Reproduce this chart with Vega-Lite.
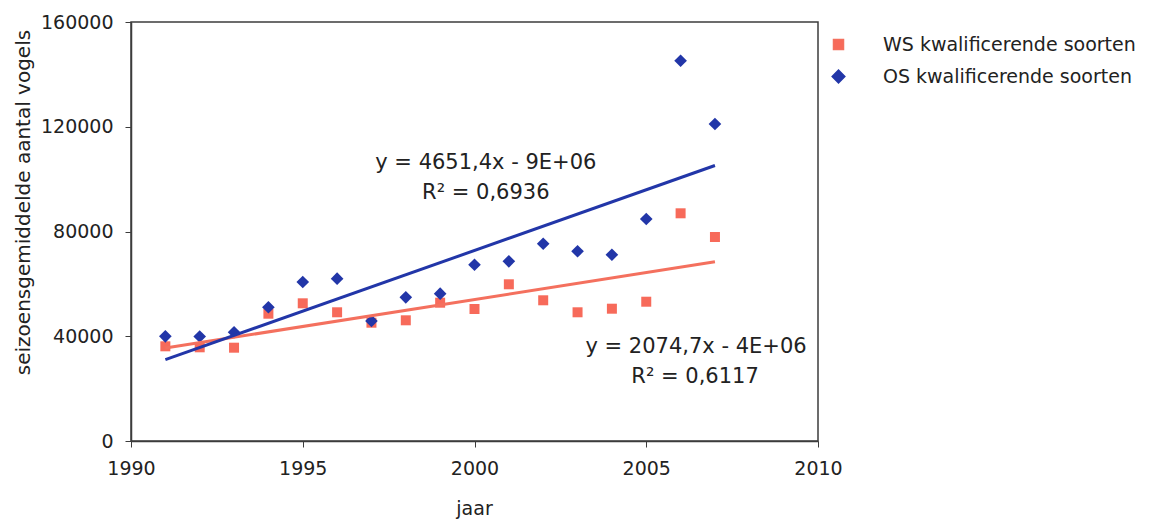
{
  "$schema": "https://vega.github.io/schema/vega-lite/v6.json",
  "autosize": "none",
  "padding": {"left": 131, "top": 22, "right": 336, "bottom": 82},
  "width": 687,
  "height": 419,
  "background": "white",
  "config": {
    "font": "DejaVu Sans",
    "view": {"stroke": "#3c3c3c", "strokeWidth": 1.5},
    "axis": {
      "grid": false,
      "labelFlush": false,
      "domainColor": "#3c3c3c",
      "domainWidth": 1.5,
      "tickColor": "#3c3c3c",
      "tickSize": 6,
      "labelFontSize": 19,
      "labelColor": "#222222",
      "titleFontSize": 19,
      "titleFontWeight": "normal",
      "titleColor": "#222222"
    },
    "legend": {
      "orient": "none",
      "legendX": 698,
      "legendY": 13,
      "labelFontSize": 19,
      "labelColor": "#222222",
      "labelOffset": 35,
      "labelLimit": 0,
      "rowPadding": 12,
      "symbolSize": 90,
      "padding": 0
    }
  },
  "datasets": {
    "obs": [
      {"year": 1991, "series": "WS kwalificerende soorten", "value": 36160},
      {"year": 1992, "series": "WS kwalificerende soorten", "value": 35780},
      {"year": 1993, "series": "WS kwalificerende soorten", "value": 35630},
      {"year": 1994, "series": "WS kwalificerende soorten", "value": 48610},
      {"year": 1995, "series": "WS kwalificerende soorten", "value": 52580},
      {"year": 1996, "series": "WS kwalificerende soorten", "value": 49150},
      {"year": 1997, "series": "WS kwalificerende soorten", "value": 45170},
      {"year": 1998, "series": "WS kwalificerende soorten", "value": 46090},
      {"year": 1999, "series": "WS kwalificerende soorten", "value": 52810},
      {"year": 2000, "series": "WS kwalificerende soorten", "value": 50410},
      {"year": 2001, "series": "WS kwalificerende soorten", "value": 59840},
      {"year": 2002, "series": "WS kwalificerende soorten", "value": 53730},
      {"year": 2003, "series": "WS kwalificerende soorten", "value": 49150},
      {"year": 2004, "series": "WS kwalificerende soorten", "value": 50520},
      {"year": 2005, "series": "WS kwalificerende soorten", "value": 53190},
      {"year": 2006, "series": "WS kwalificerende soorten", "value": 86950},
      {"year": 2007, "series": "WS kwalificerende soorten", "value": 77900},
      {"year": 1991, "series": "OS kwalificerende soorten", "value": 39980},
      {"year": 1992, "series": "OS kwalificerende soorten", "value": 39900},
      {"year": 1993, "series": "OS kwalificerende soorten", "value": 41510},
      {"year": 1994, "series": "OS kwalificerende soorten", "value": 51060},
      {"year": 1995, "series": "OS kwalificerende soorten", "value": 60720},
      {"year": 1996, "series": "OS kwalificerende soorten", "value": 61980},
      {"year": 1997, "series": "OS kwalificerende soorten", "value": 45820},
      {"year": 1998, "series": "OS kwalificerende soorten", "value": 54870},
      {"year": 1999, "series": "OS kwalificerende soorten", "value": 56250},
      {"year": 2000, "series": "OS kwalificerende soorten", "value": 67320},
      {"year": 2001, "series": "OS kwalificerende soorten", "value": 68620},
      {"year": 2002, "series": "OS kwalificerende soorten", "value": 75340},
      {"year": 2003, "series": "OS kwalificerende soorten", "value": 72440},
      {"year": 2004, "series": "OS kwalificerende soorten", "value": 71140},
      {"year": 2005, "series": "OS kwalificerende soorten", "value": 84770},
      {"year": 2006, "series": "OS kwalificerende soorten", "value": 145220},
      {"year": 2007, "series": "OS kwalificerende soorten", "value": 121050}
    ],
    "notes": [
      {"year": 2000.33, "value": 106270, "label": "y = 4651,4x - 9E+06"},
      {"year": 2000.33, "value": 94590, "label": "R² = 0,6936"},
      {"year": 2006.45, "value": 36010, "label": "y = 2074,7x - 4E+06"},
      {"year": 2006.42, "value": 24550, "label": "R² = 0,6117"}
    ]
  },
  "layer": [
    {
      "data": {"name": "obs"},
      "mark": {"type": "point", "filled": true, "opacity": 1},
      "encoding": {
        "x": {
          "field": "year",
          "type": "quantitative",
          "scale": {"domain": [1990, 2010], "nice": false, "zero": false},
          "axis": {
            "values": [1990, 1995, 2000, 2005, 2010],
            "format": "d",
            "title": "jaar",
            "labelPadding": 12,
            "titleX": 343,
            "titleY": 67,
            "titleBaseline": "middle"
          }
        },
        "y": {
          "field": "value",
          "type": "quantitative",
          "scale": {"domain": [0, 160000], "nice": false},
          "axis": {
            "values": [0, 40000, 80000, 120000, 160000],
            "format": "d",
            "title": "seizoensgemiddelde aantal vogels",
            "titleFontSize": 20,
            "labelPadding": 12,
            "titleX": -108,
            "titleY": 180,
            "titleAlign": "center",
            "titleBaseline": "middle"
          }
        },
        "color": {
          "field": "series",
          "type": "nominal",
          "scale": {
            "domain": ["WS kwalificerende soorten", "OS kwalificerende soorten"],
            "range": ["#f76a5a", "#2236a8"]
          },
          "legend": {"title": null}
        },
        "shape": {
          "field": "series",
          "type": "nominal",
          "scale": {
            "domain": ["WS kwalificerende soorten", "OS kwalificerende soorten"],
            "range": ["square", "diamond"]
          },
          "legend": {"title": null}
        },
        "size": {
          "field": "series",
          "type": "nominal",
          "scale": {
            "domain": ["WS kwalificerende soorten", "OS kwalificerende soorten"],
            "range": [100, 160]
          },
          "legend": null
        }
      }
    },
    {
      "data": {"name": "obs"},
      "transform": [
        {"regression": "value", "on": "year", "groupby": ["series"]}
      ],
      "mark": {"type": "line", "strokeWidth": 3},
      "encoding": {
        "x": {"field": "year", "type": "quantitative"},
        "y": {"field": "value", "type": "quantitative"},
        "stroke": {
          "field": "series",
          "type": "nominal",
          "scale": {
            "domain": ["WS kwalificerende soorten", "OS kwalificerende soorten"],
            "range": ["#f4705e", "#2236a8"]
          },
          "legend": null
        }
      }
    },
    {
      "data": {"name": "notes"},
      "mark": {
        "type": "text",
        "fontSize": 21,
        "color": "#222222",
        "align": "center",
        "baseline": "middle"
      },
      "encoding": {
        "x": {"field": "year", "type": "quantitative"},
        "y": {"field": "value", "type": "quantitative"},
        "text": {"field": "label"}
      }
    }
  ]
}
